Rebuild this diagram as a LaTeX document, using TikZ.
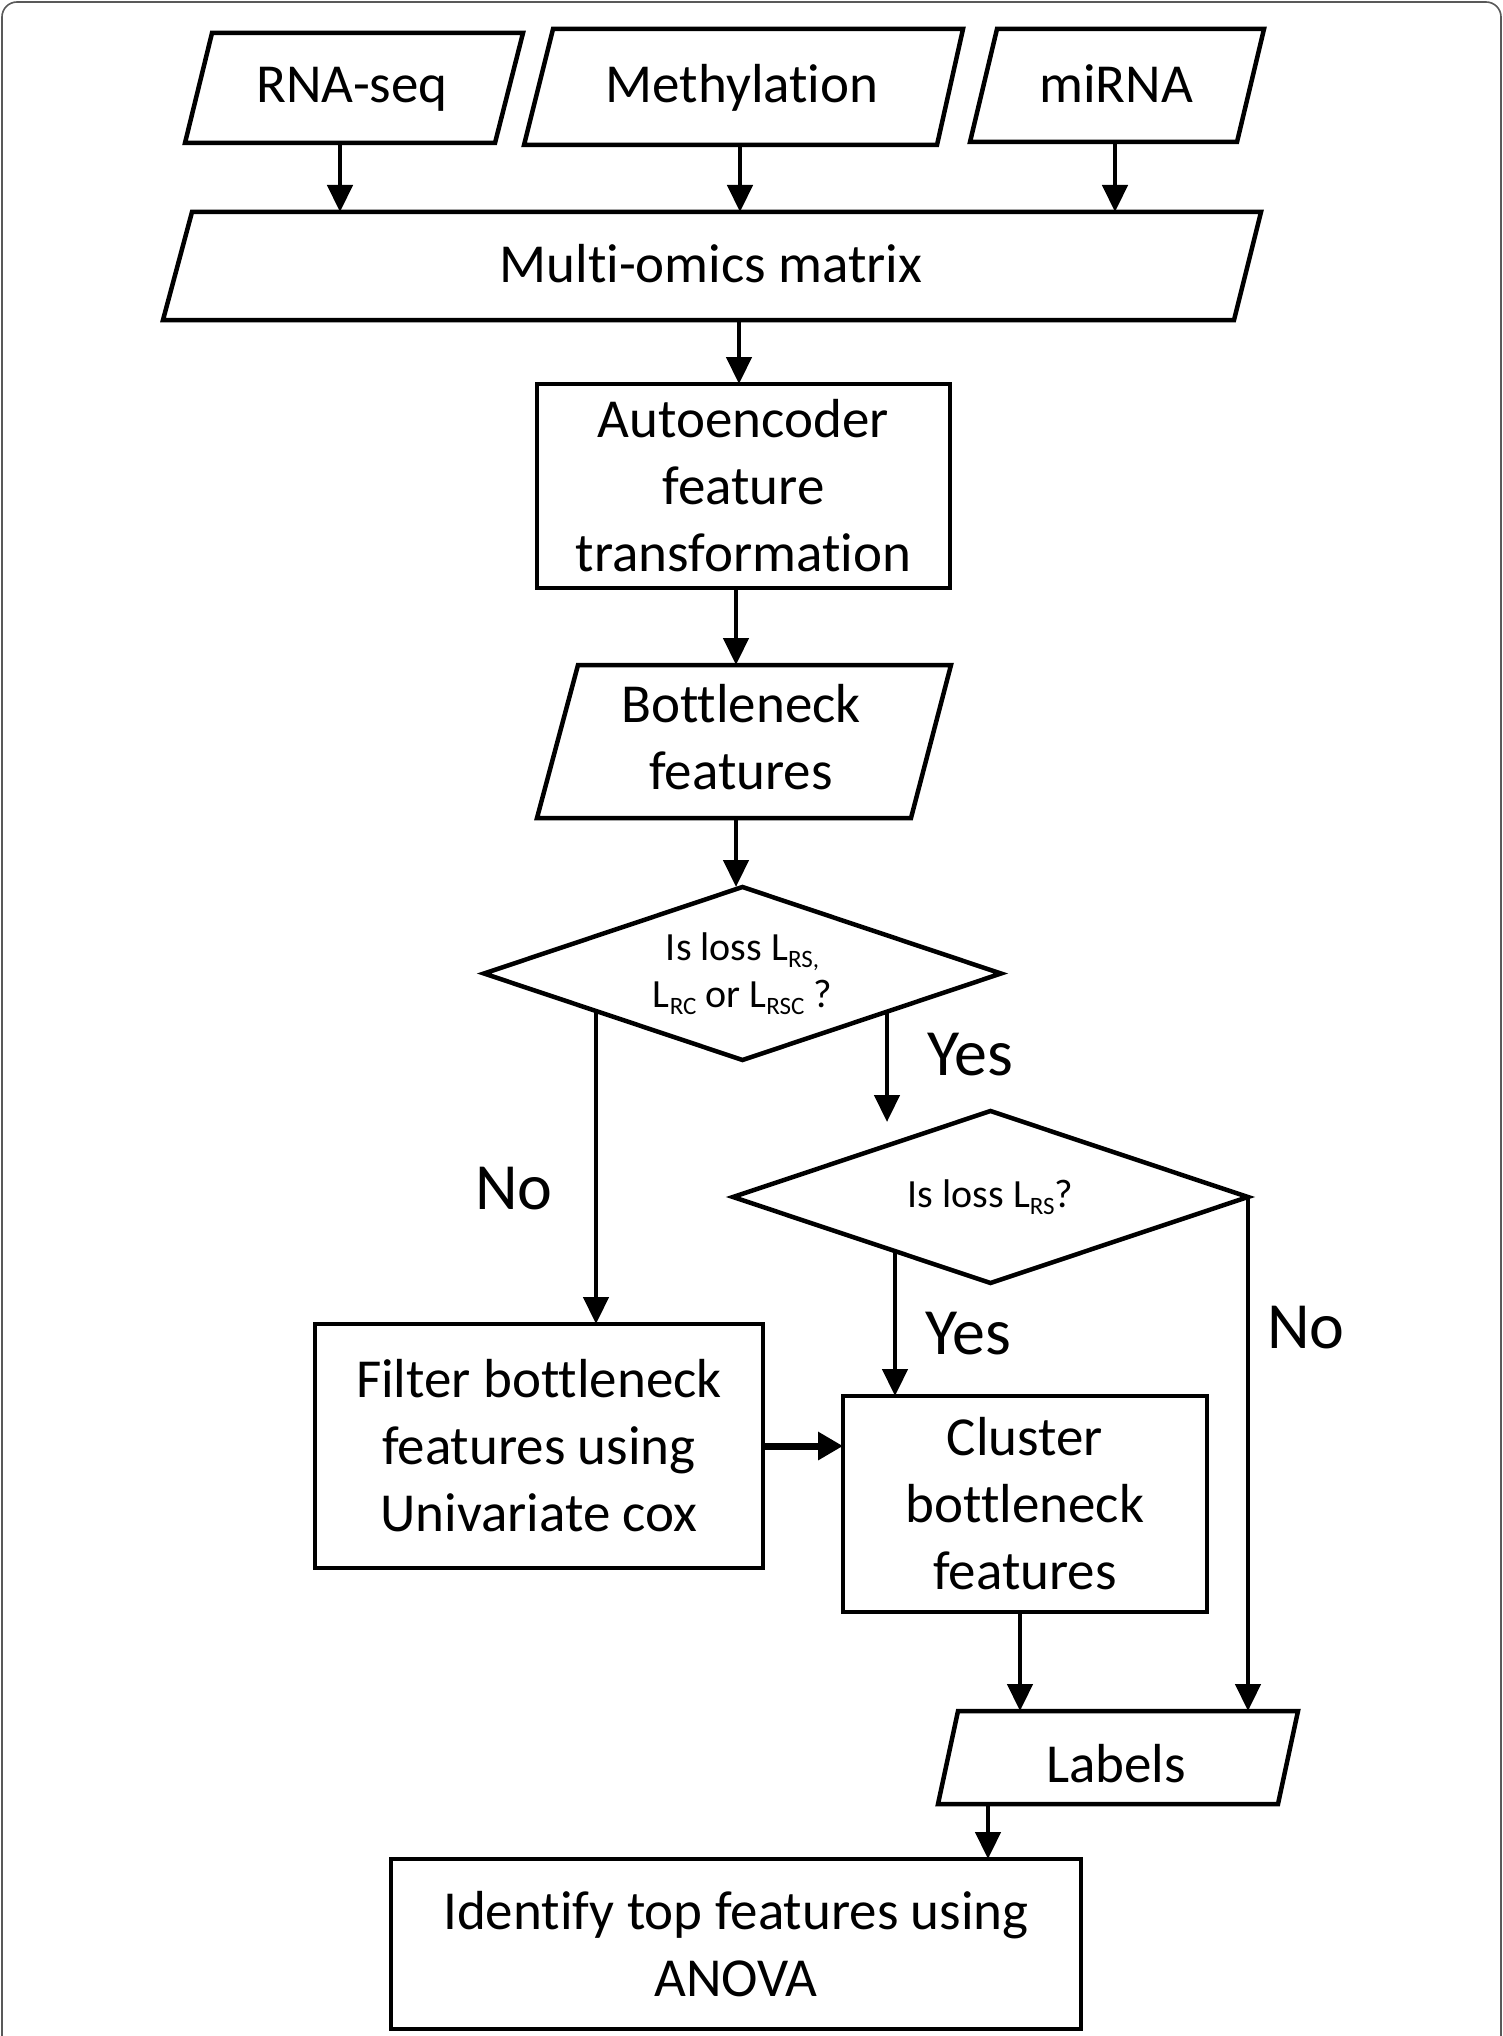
\documentclass[tikz,border=0pt]{standalone}
\usepackage{fontspec}
\setmainfont{Carlito}[Ligatures={NoCommon,NoRare,NoContextual}]
\usetikzlibrary{arrows.meta,shapes.geometric}
\newcommand{\lsub}[1]{\raisebox{-7pt}{\fontsize{25}{25}\selectfont #1}}
\begin{document}
\begin{tikzpicture}[x=1pt,y=-1pt,
  shp/.style={draw=black,line width=4.5pt,line join=miter},
  rbox/.style={shp,rectangle,inner sep=0pt,outer sep=0pt,align=center,
     font=\fontsize{55}{67}\selectfont},
  dbox/.style={shp,diamond,aspect=3,inner sep=0pt,outer sep=0pt,align=center,
     font=\fontsize{40}{47}\selectfont},
  txt/.style={inner sep=0pt,outer sep=0pt,align=center,font=\fontsize{55}{67}\selectfont},
  lbl/.style={inner sep=0pt,outer sep=0pt,anchor=base west,font=\fontsize{66}{80}\selectfont},
  arr/.style={line width=4.5pt,-{Triangle[width=25pt,length=27pt]}},
  tarr/.style={line width=7pt,-{Triangle[width=27pt,length=25pt]}},
  frame/.style={draw=black!65,line width=1.6pt,rounded corners=15pt}
]
\useasboundingbox (0,0) rectangle (1503,2036);
\fill[white] (0,0) rectangle (1503,2036);
\draw[frame] (2,2050) -- (2,2) -- (1501,2) -- (1501,2050);

% parallelogram outlines
\draw[shp] (212,33) -- (523,33) -- (495,143) -- (185,143) -- cycle;
\draw[shp] (553,29) -- (963,29) -- (937,145) -- (524,145) -- cycle;
\draw[shp] (997,29) -- (1264,29) -- (1237,142) -- (970,142) -- cycle;
\draw[shp] (192,212) -- (1261,212) -- (1234,320) -- (163,320) -- cycle;
\draw[shp] (578,665) -- (951,665) -- (911,818) -- (537,818) -- cycle;
\draw[shp] (958,1711) -- (1298,1711) -- (1278,1804) -- (938,1804) -- cycle;

% text of parallelograms
\node[txt,anchor=base] (rna) at (352,103) {RNA-seq};
\node[txt,anchor=base] (meth) at (742,103) {Methylation};
\node[txt,anchor=base] (mirna) at (1116,103) {miRNA};
\node[txt,anchor=base] (mom) at (711,282) {Multi-omics matrix};
\node[txt] (bott) at (741,737) {Bottleneck\\features};
\node[txt,anchor=base] (lab) at (1116,1782) {Labels};

% rectangles
\node[rbox,minimum width=413pt,minimum height=204pt] (auto) at (743.5,486) {Autoencoder\\feature\\transformation};
\node[rbox,minimum width=448pt,minimum height=244pt] (filt) at (539,1446) {Filter bottleneck\\features using\\Univariate cox};
\node[rbox,minimum width=364pt,minimum height=216pt] (clus) at (1025,1504) {Cluster\\bottleneck\\features};
\node[rbox,minimum width=690pt,minimum height=170pt] (iden) at (736,1944) {Identify top features using\\ANOVA};

% diamonds
\node[dbox,minimum width=517pt,minimum height=173pt] (d1) at (742.5,973.5) {Is loss L\lsub{RS,}\\L\lsub{RC} or L\lsub{RSC} ?};
\node[dbox,minimum width=515pt,minimum height=172pt] (d2) at (990.5,1197) {Is loss L\lsub{RS}?};

% labels
\node[lbl] (yes1) at (927,1075) {Yes};
\node[lbl] (no1) at (475,1209) {No};
\node[lbl] (yes2) at (925,1354) {Yes};
\node[lbl] (no2) at (1267,1348) {No};

% named connection points
\coordinate (rnaS) at (340,143);
\coordinate (methS) at (740,145);
\coordinate (mirS) at (1115,142);
\coordinate (momN) at (712,212);
\coordinate (momS) at (739,320);
\coordinate (botN) at (736,665);
\coordinate (botS) at (736,818);
\coordinate (noA) at (596,1011.5);
\coordinate (yesA) at (887,1012);
\coordinate (yesAend) at (887,1122);
\coordinate (yesB) at (895,1251);
\coordinate (clx) at (1020,0);
\coordinate (labN) at (1117,1711);
\coordinate (labS) at (988,1804);

% connectors
\draw[arr] (rnaS) -- (rnaS |- momN);
\draw[arr] (methS) -- (methS |- momN);
\draw[arr] (mirS) -- (mirS |- momN);
\draw[arr] (momS) -- (momS |- auto.north);
\draw[arr] (botN |- auto.south) -- (botN);
\draw[arr] (botS) -- (botS |- d1.north);
\draw[arr] (noA) -- (noA |- filt.north);
\draw[arr] (yesA) -- (yesAend);
\draw[arr] (yesB) -- (yesB |- clus.north);
\draw[tarr] (filt.east) -- (clus.west |- filt.east);
\draw[arr] (d2.east) -- (d2.east |- labN);
\draw[arr] (clx |- clus.south) -- (clx |- labN);
\draw[arr] (labS) -- (labS |- iden.north);
\end{tikzpicture}
\end{document}
